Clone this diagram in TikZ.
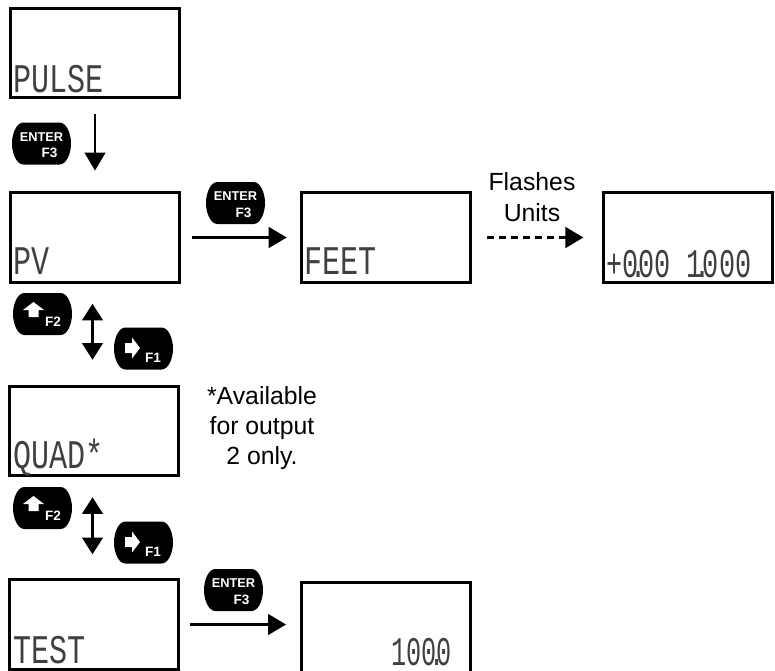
\documentclass[tikz,border=0pt]{standalone}
\usepackage{graphicx}
\usepackage{fontspec}
\setmainfont{Liberation Sans}
\newfontfamily\lcdfont{Liberation Mono}
\usetikzlibrary{arrows.meta}
\newcommand{\lcd}[2][0.74]{\scalebox{#1}[1]{\fontsize{30.5}{30.5}\lcdfont #2}}
\newcommand{\lcddot}{\hbox to 0pt{\hss.\hss}}
\definecolor{lcdgray}{gray}{0.25}
\tikzset{
  lcdbox/.style={draw,line width=2.4pt,minimum width=126.5pt,minimum height=67pt,inner sep=0pt},
  lcdtext/.style={inner sep=0pt,anchor=base west,text=lcdgray},
  note/.style={align=center,inner sep=0pt,font=\fontsize{18.6}{22.8}\selectfont},
  keytext/.style={white,inner sep=0pt,font=\fontsize{10.2}{10.2}\selectfont\bfseries},
  flow/.style={line width=1.8pt,-{Triangle[length=13.5pt,width=15.5pt]}},
  flowboth/.style={line width=1.8pt,{Triangle[length=12.5pt,width=15.5pt]}-{Triangle[length=12.5pt,width=15.5pt]}},
  keyshape/.pic={
    \fill (-18,-21) -- (18,-21) .. controls (25,-21) and (29.5,-10) .. (29.5,0)
      .. controls (29.5,10) and (25,21) .. (18,21) -- (-18,21)
      .. controls (-25,21) and (-29.5,10) .. (-29.5,0)
      .. controls (-29.5,-10) and (-25,-21) .. (-18,-21) -- cycle;
  },
  enterkey/.pic={
    \pic {keyshape};
    \node [keytext,font=\fontsize{9.6}{9.6}\selectfont\bfseries] (-enter) at (0,-6.5) {ENTER};
    \node [keytext] (-fn) at (8,9.5) {F3};
  },
  upkey/.pic={
    \pic {keyshape};
    \fill [white] (-9,-12) -- (1.5,-4) -- (-4,-4) -- (-4,3) -- (-14,3) -- (-14,-4) -- (-19.5,-4) -- cycle;
    \node [keytext] (-fn) at (10.5,8) {F2};
  },
  rightkey/.pic={
    \pic {keyshape};
    \fill [white] (-3.5,-0.5) -- (-11.5,10) -- (-11.5,4.5) -- (-18.5,4.5) -- (-18.5,-5.5) -- (-11.5,-5.5) -- (-11.5,-11) -- cycle;
    \node [keytext] (-fn) at (9.5,9.5) {F1};
  },
}
\begin{document}
\begin{tikzpicture}[x=0.75pt,y=-0.75pt]
    \useasboundingbox (0,0) rectangle (775,671);
    \node [lcdbox] (pulse) at (95,53) {};
    \node [lcdbox] (pv) at (95,237.5) {};
    \node [lcdbox] (feet) at (386,237.5) {};
    \node [lcdbox] (readout) at (688,237.5) {};
    \node [lcdbox] (quad) at (94,431) {};
    \node [lcdbox] (test) at (94,624.5) {};
    \node [lcdbox] (percent) at (386,627.5) {};
    \node [lcdtext] (pulsetxt) at (13,92) {\lcd{PULSE}};
    \node [lcdtext] (pvtxt) at (13,274) {\lcd{PV}};
    \node [lcdtext] (feettxt) at (304,274) {\lcd{FEET}};
    \node [lcdtext] (quadtxt) at (13,468) {\lcd{QUAD*}};
    \node [lcdtext] (testtxt) at (13,663) {\lcd{TEST}};
    \node [lcdtext] (readouttxt) at (606,277) {\lcd[0.66]{+0\lcddot 00 1\lcddot 000}};
    \node [lcdtext,anchor=base east] (percenttxt) at (452,665) {\lcd[0.62]{100\lcddot 0}};
    \node [note] (flashes) at (532,197) {Flashes\\Units};
    \node [note] (only) at (262,428) {*Available\\for output\\2 only.};
    \pic (enterone) at (41.5,143.5) {enterkey};
    \pic (entertwo) at (235.5,203) {enterkey};
    \pic (enterthree) at (233.5,590) {enterkey};
    \pic (upone) at (42.5,314) {upkey};
    \pic (uptwo) at (42.5,508) {upkey};
    \pic (rightone) at (143.5,348.5) {rightkey};
    \pic (righttwo) at (143.5,542.5) {rightkey};
    \draw [flow,shorten <=11pt,shorten >=15.5pt] (pulse) -- (pv);
    \draw [flowboth,shorten <=15pt,shorten >=18.75pt] (pv.south -| 92.5,0) -- (quad.north -| 92.5,0);
    \draw [flowboth,shorten <=15pt,shorten >=18pt] (quad.south -| 92.5,0) -- (test.north -| 92.5,0);
    \draw [flow,shorten <=8pt,shorten >=10pt] (pv) -- (feet);
    \draw [flow,dash pattern=on 5.2pt off 3.8pt,shorten <=11pt,shorten >=14pt] (feet) -- (readout);
    \draw [flow,shorten <=7.5pt,shorten >=10.5pt] (test.east) -- (test.east -| percent.west);
\end{tikzpicture}
\end{document}
